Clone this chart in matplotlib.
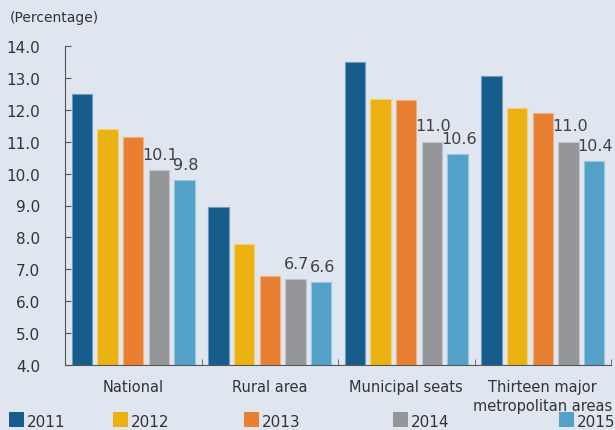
import numpy as np
import matplotlib.pyplot as plt
from matplotlib.patches import Rectangle

categories = ["National", "Rural area", "Municipal seats", "Thirteen major\nmetropolitan areas"]
years = ["2011", "2012", "2013", "2014", "2015"]
values = {
    "2011": [12.5, 8.95, 13.5, 13.05],
    "2012": [11.4, 7.8, 12.35, 12.05],
    "2013": [11.15, 6.8, 12.3, 11.9],
    "2014": [10.1, 6.7, 11.0, 11.0],
    "2015": [9.8, 6.6, 10.6, 10.4],
}
labelled = ["2014", "2015"]

colors = ["#165d8c", "#ebb111", "#e97f31", "#959699", "#53a0c9"]
edges = ["#6f9dbd", "#f3d27a", "#f2b07e", "#c3c4c6", "#98c6df"]
bg = "#dfe6f0"
txt = "#333333"

W, H = 615, 431
fig = plt.figure(figsize=(W / 100, H / 100), dpi=100, facecolor=bg)
ax = fig.add_axes([65 / W, 1 - 366 / H, 546 / W, 319 / H], facecolor=bg)

x = np.arange(len(categories))
w = 0.15
pitch = 0.187
for i, yr in enumerate(years):
    pos = x + (i - 2) * pitch
    ax.bar(pos, np.array(values[yr]) - 4.0, w, bottom=4.0, color=colors[i],
           edgecolor=edges[i], linewidth=0.8, zorder=2)
    if yr in labelled:
        for px, v in zip(pos, values[yr]):
            ax.annotate(f"{v:.1f}", (px, v), xytext=(1, 6), textcoords="offset points",
                        ha="center", va="bottom", fontsize=11.5, color="#404040")

ax.set_ylim(4, 14)
ax.set_xlim(-0.5, 3.5)
yt = np.arange(4, 14.1, 1)
ax.set_yticks(yt)
ax.set_yticklabels([f"{v:.1f}" for v in yt], fontsize=11, color=txt)
ax.set_xticks(x)
ax.set_xticklabels(categories, fontsize=10.5, color=txt, linespacing=1.35, va="top")
ax.set_xticks([0.5, 1.5, 2.5, 3.5], minor=True)
ax.tick_params(axis="x", which="major", length=0, pad=10)
ax.tick_params(axis="x", which="minor", direction="in", length=4, color="#555555")
ax.tick_params(axis="y", direction="in", length=4, color="#555555", pad=18)
for s in ["top", "right"]:
    ax.spines[s].set_visible(False)
ax.spines["left"].set_color("#555555")
ax.spines["bottom"].set_color("#555555")

fig.text(10 / W, 1 - 18 / H, "(Percentage)", fontsize=10, color=txt, va="center")

# legend laid out like the original, spread along the bottom edge
leg_x = [9, 113, 244, 393, 559]
for lx, c, yr in zip(leg_x, colors, years):
    fig.add_artist(Rectangle((lx / W, 1 - 428 / H), 15 / W, 15 / H,
                             transform=fig.transFigure, facecolor=c, edgecolor="none"))
    fig.text((lx + 18) / W, 1 - 430 / H, yr, fontsize=11, color=txt, va="bottom")

fig.savefig("out.png", dpi=100, facecolor=bg)
